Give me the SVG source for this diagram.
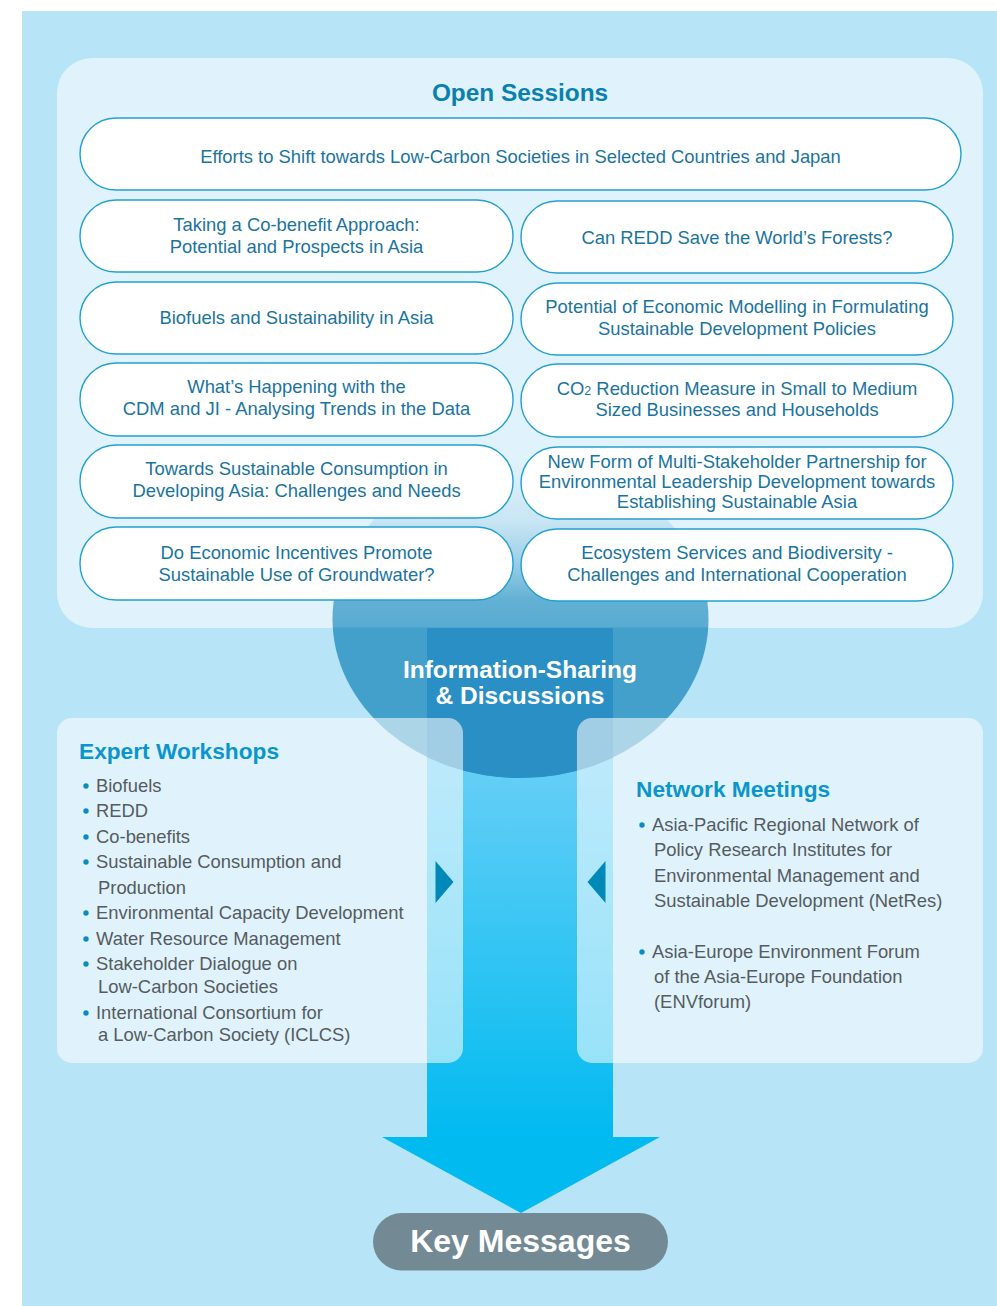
<svg xmlns="http://www.w3.org/2000/svg" width="997" height="1306" viewBox="0 0 997 1306">
<defs>
<style>
.box{fill:#ffffff;stroke:#22a0cf;stroke-width:1.4}
.bt{font-family:"Liberation Sans",Arial,sans-serif;font-size:18.4px;fill:#1a74a0;text-anchor:middle}
.li{font-family:"Liberation Sans",Arial,sans-serif;font-size:18.4px;fill:#555b60}
.hd{font-family:"Liberation Sans",Arial,sans-serif;font-size:22.7px;font-weight:bold;fill:#0a96cc}
.dot{fill:#0a8cc0}
.side{fill:#ffffff;fill-opacity:0.56}
.tri{fill:#0088b8}
</style>
<linearGradient id="shaftG" gradientUnits="userSpaceOnUse" x1="0" y1="778" x2="0" y2="1140">
<stop offset="0" stop-color="#62cef6"/>
<stop offset="1" stop-color="#00baf0"/>
</linearGradient>
<linearGradient id="ellG" gradientUnits="userSpaceOnUse" x1="0" y1="460" x2="0" y2="778">
<stop offset="0" stop-color="#43a0cb" stop-opacity="0"/>
<stop offset="0.19" stop-color="#43a0cb" stop-opacity="0.15"/>
<stop offset="0.314" stop-color="#43a0cb" stop-opacity="0.41"/>
<stop offset="0.44" stop-color="#43a0cb" stop-opacity="0.8"/>
<stop offset="0.525" stop-color="#43a0cb" stop-opacity="0.86"/>
<stop offset="0.528" stop-color="#43a0cb" stop-opacity="1"/>
<stop offset="1" stop-color="#43a0cb" stop-opacity="1"/>
</linearGradient>
<clipPath id="ellClip"><ellipse cx="520.5" cy="619" rx="188" ry="159"/></clipPath>
</defs>

<rect x="22" y="11" width="975" height="1295" fill="#b8e4f8"/>

<g id="open-sessions-panel">
<rect x="57" y="58" width="926" height="570" rx="35" fill="#e0f2fb"/>
</g>

<g id="connectors">
<polygon points="427,628 613,628 613,1137 660,1137 521,1213 382,1137 427,1137" fill="url(#shaftG)"/>
</g>

<g id="information-sharing">
<ellipse cx="520.5" cy="619" rx="188" ry="159" fill="url(#ellG)"/>
<rect x="427" y="628" width="186" height="152" fill="#2a8fc4" clip-path="url(#ellClip)"/>
</g>

<g id="open-sessions">
<text x="520" y="101" font-family="Liberation Sans,Arial,sans-serif" font-size="24.4" font-weight="bold" fill="#0a80b0" text-anchor="middle">Open Sessions</text>
</g>

<g id="s1"><rect class="box" x="80" y="118" width="881" height="72" rx="36"/>
<text class="bt" x="520.5" y="163">Efforts to Shift towards Low-Carbon Societies in Selected Countries and Japan</text></g>

<g id="s2"><rect class="box" x="80" y="200" width="433" height="72" rx="36"/>
<text class="bt" x="296.5" y="231">Taking a Co-benefit Approach:</text>
<text class="bt" x="296.5" y="253">Potential and Prospects in Asia</text></g>

<g id="s3"><rect class="box" x="521" y="201" width="432" height="72" rx="36"/>
<text class="bt" x="737" y="244">Can REDD Save the World’s Forests?</text></g>

<g id="s4"><rect class="box" x="80" y="282" width="433" height="72" rx="36"/>
<text class="bt" x="296.5" y="324">Biofuels and Sustainability in Asia</text></g>

<g id="s5"><rect class="box" x="521" y="283" width="432" height="72" rx="36"/>
<text class="bt" x="737" y="313">Potential of Economic Modelling in Formulating</text>
<text class="bt" x="737" y="335">Sustainable Development Policies</text></g>

<g id="s6"><rect class="box" x="80" y="363" width="433" height="73" rx="36"/>
<text class="bt" x="296.5" y="393">What’s Happening with the</text>
<text class="bt" x="296.5" y="415">CDM and JI - Analysing Trends in the Data</text></g>

<g id="s7"><rect class="box" x="521" y="364" width="432" height="73" rx="36"/>
<text class="bt" x="737" y="395">CO<tspan font-size="12.5">2</tspan> Reduction Measure in Small to Medium</text>
<text class="bt" x="737" y="416">Sized Businesses and Households</text></g>

<g id="s8"><rect class="box" x="80" y="445" width="433" height="73" rx="36"/>
<text class="bt" x="296.5" y="475">Towards Sustainable Consumption in</text>
<text class="bt" x="296.5" y="497">Developing Asia: Challenges and Needs</text></g>

<g id="s9"><rect class="box" x="521" y="447" width="432" height="72" rx="36"/>
<text class="bt" x="737" y="468">New Form of Multi-Stakeholder Partnership for</text>
<text class="bt" x="737" y="488">Environmental Leadership Development towards</text>
<text class="bt" x="737" y="508">Establishing Sustainable Asia</text></g>

<g id="s10"><rect class="box" x="80" y="527" width="433" height="73" rx="36"/>
<text class="bt" x="296.5" y="559">Do Economic Incentives Promote</text>
<text class="bt" x="296.5" y="581">Sustainable Use of Groundwater?</text></g>

<g id="s11"><rect class="box" x="521" y="529" width="432" height="72" rx="36"/>
<text class="bt" x="737" y="559">Ecosystem Services and Biodiversity -</text>
<text class="bt" x="737" y="581">Challenges and International Cooperation</text></g>

<g id="info-label">
<text x="520" y="678" font-family="Liberation Sans,Arial,sans-serif" font-size="24.5" font-weight="bold" fill="#ffffff" text-anchor="middle">Information-Sharing</text>
<text x="520" y="704" font-family="Liberation Sans,Arial,sans-serif" font-size="24.5" font-weight="bold" fill="#ffffff" text-anchor="middle">&amp; Discussions</text>
</g>

<g id="expert-workshops">
<rect class="side" x="57" y="718" width="406" height="345" rx="15"/>
<text class="hd" x="79" y="759">Expert Workshops</text>
<circle class="dot" cx="86" cy="786" r="2.7"/><text class="li" x="96" y="792">Biofuels</text>
<circle class="dot" cx="86" cy="811" r="2.7"/><text class="li" x="96" y="817">REDD</text>
<circle class="dot" cx="86" cy="837" r="2.7"/><text class="li" x="96" y="843">Co-benefits</text>
<circle class="dot" cx="86" cy="862" r="2.7"/><text class="li" x="96" y="868">Sustainable Consumption and</text>
<text class="li" x="98" y="894">Production</text>
<circle class="dot" cx="86" cy="913" r="2.7"/><text class="li" x="96" y="919">Environmental Capacity Development</text>
<circle class="dot" cx="86" cy="939" r="2.7"/><text class="li" x="96" y="945">Water Resource Management</text>
<circle class="dot" cx="86" cy="964" r="2.7"/><text class="li" x="96" y="970">Stakeholder Dialogue on</text>
<text class="li" x="98" y="993">Low-Carbon Societies</text>
<circle class="dot" cx="86" cy="1013" r="2.7"/><text class="li" x="96" y="1019">International Consortium for</text>
<text class="li" x="98" y="1041">a Low-Carbon Society (ICLCS)</text>
<polygon class="tri" points="435.5,861 453.5,882 435.5,903"/>
</g>

<g id="network-meetings">
<rect class="side" x="577" y="718" width="406" height="345" rx="15"/>
<text class="hd" x="636" y="797">Network Meetings</text>
<circle class="dot" cx="642" cy="825" r="2.7"/><text class="li" x="652" y="831">Asia-Pacific Regional Network of</text>
<text class="li" x="654" y="856">Policy Research Institutes for</text>
<text class="li" x="654" y="882">Environmental Management and</text>
<text class="li" x="654" y="907">Sustainable Development (NetRes)</text>
<circle class="dot" cx="642" cy="952" r="2.7"/><text class="li" x="652" y="958">Asia-Europe Environment Forum</text>
<text class="li" x="654" y="983">of the Asia-Europe Foundation</text>
<text class="li" x="654" y="1008">(ENVforum)</text>
<polygon class="tri" points="605.5,861 587.5,882 605.5,903"/>
</g>

<g id="key-messages">
<rect x="373" y="1213" width="295" height="57.5" rx="28.7" fill="#738a95"/>
<text x="520.5" y="1252" font-family="Liberation Sans,Arial,sans-serif" font-size="32" font-weight="bold" fill="#ffffff" text-anchor="middle">Key Messages</text>
</g>
</svg>
